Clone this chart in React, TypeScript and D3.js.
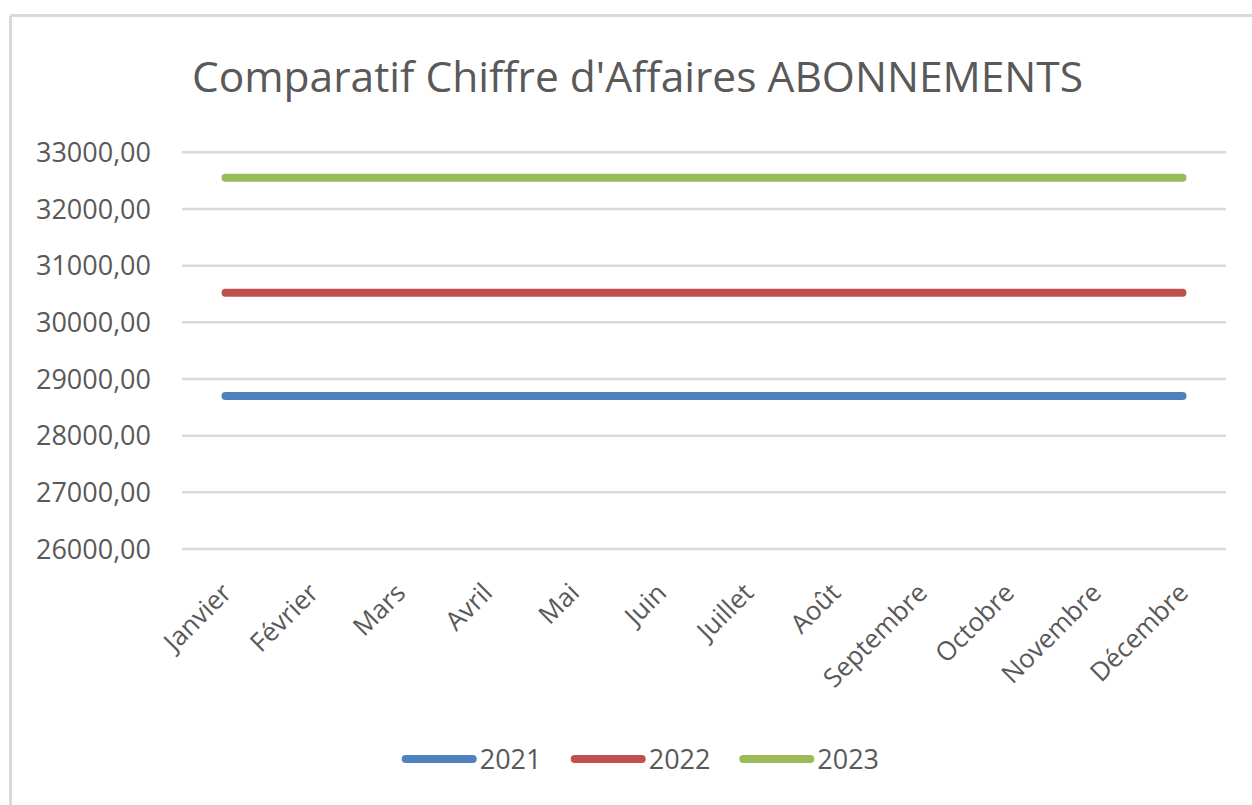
import React from "react";
import * as d3 from "d3";

const months = ["Janvier","Février","Mars","Avril","Mai","Juin","Juillet","Août","Septembre","Octobre","Novembre","Décembre"];
const values2021 = [28700,28700,28700,28700,28700,28700,28700,28700,28700,28700,28700,28700];
const values2022 = [30520,30520,30520,30520,30520,30520,30520,30520,30520,30520,30520,30520];
const values2023 = [32550,32550,32550,32550,32550,32550,32550,32550,32550,32550,32550,32550];
const yTicks = [26000,27000,28000,29000,30000,31000,32000,33000];
const seriesNames = ["2021","2022","2023"];
const seriesColors = ["#4f81bd","#c0504d","#9bbb59"];
const title = "Comparatif Chiffre d'Affaires ABONNEMENTS";

const W = 1252, H = 805;
const FONT = "'Open Sans', 'Noto Sans', sans-serif";
const TEXT = "#595959";

export default function App() {
  const x = d3.scaleBand<string>().domain(months).range([182, 1226]);
  const y = d3.scaleLinear().domain([26000, 33000]).range([549, 152.3]);
  const series = [values2021, values2022, values2023];
  const line = d3.line<number>()
    .x((_, i) => (x(months[i]) as number) + x.bandwidth() / 2)
    .y(d => y(d));
  const fmt = (v: number) => v.toFixed(2).replace(".", ",");

  const legendX = [401.7, 570.7, 739.3];

  return (
    <svg width={W} height={H} style={{ position: "absolute", left: 0, top: 0, display: "block", background: "#fff" }}>
      <line x1={10.5} y1={15.5} x2={W} y2={15.5} stroke="#d9d9d9" strokeWidth={3} />
      <line x1={10.5} y1={15.5} x2={10.5} y2={H} stroke="#d9d9d9" strokeWidth={3} />
      <text x={637.5} y={92} textAnchor="middle" fontFamily={FONT} fontSize={42.5} fill={TEXT}>{title}</text>
      {yTicks.map(t => (
        <g key={t}>
          <line x1={182} x2={1226} y1={y(t)} y2={y(t)} stroke="#d9d9d9" strokeWidth={2.5} />
          <text x={151} y={y(t)} dy="0.36em" textAnchor="end" fontFamily={FONT} fontSize={27} fill={TEXT}>{fmt(t)}</text>
        </g>
      ))}
      {months.map(m => {
        const cx = (x(m) as number) + x.bandwidth() / 2 + 1;
        return (
          <text key={m} transform={`translate(${cx},588) rotate(-45)`} dy="0.35em" textAnchor="end" fontFamily={FONT} fontSize={26} fill={TEXT}>{m}</text>
        );
      })}
      {series.map((s, i) => (
        <path key={i} d={line(s) as string} fill="none" stroke={seriesColors[i]} strokeWidth={8} strokeLinecap="round" />
      ))}
      {seriesNames.map((n, i) => (
        <g key={n}>
          <line x1={legendX[i] + 4} x2={legendX[i] + 71} y1={759} y2={759} stroke={seriesColors[i]} strokeWidth={8} strokeLinecap="round" />
          <text x={legendX[i] + 78} y={769} fontFamily={FONT} fontSize={27} fill={TEXT}>{n}</text>
        </g>
      ))}
    </svg>
  );
}
